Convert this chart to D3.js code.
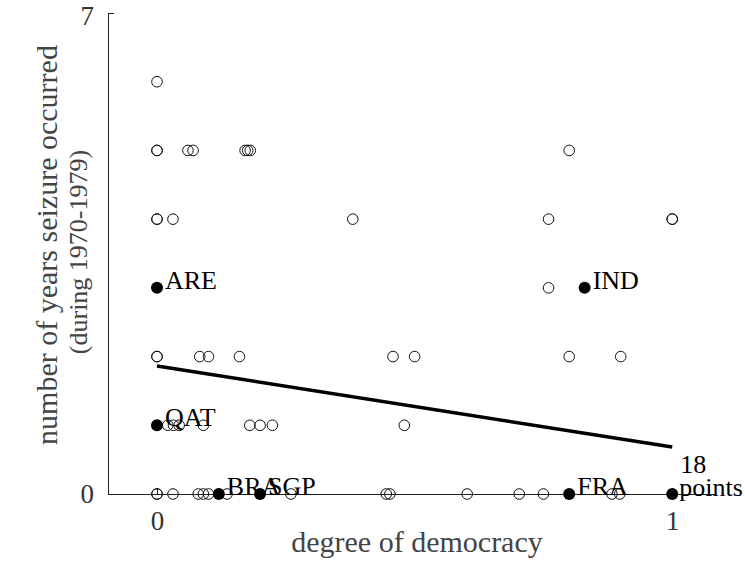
<!DOCTYPE html>
<html>
<head>
<meta charset="utf-8">
<script src="https://cdn.jsdelivr.net/npm/d3@7"></script>
<style>
  body { margin: 0; background: #fff; }
  text { font-family: "Liberation Serif", "Times New Roman", serif; }
</style>
</head>
<body>
<div id="chart-area"></div>
<script>
// Open markers: degree of democracy (x) and number of years (y)
const openX = [
    0,
    0, 0, 0.06, 0.07, 0.171, 0.176, 0.181, 0.80,
    0, 0, 0.031, 0.38, 0.76, 1, 1,
    0.76,
    0, 0, 0.083, 0.10, 0.16, 0.458, 0.5, 0.80, 0.90,
    0.021, 0.032, 0.043, 0.090, 0.18, 0.20, 0.224, 0.48,
    0, 0, 0.031, 0.080, 0.090, 0.100, 0.136, 0.26, 0.445, 0.452, 0.602, 0.703, 0.750, 0.883, 0.898
];
const openY = [
    6,
    5, 5, 5, 5, 5, 5, 5, 5,
    4, 4, 4, 4, 4, 4, 4,
    3,
    2, 2, 2, 2, 2, 2, 2, 2, 2,
    1, 1, 1, 1, 1, 1, 1, 1,
    0, 0, 0, 0, 0, 0, 0, 0, 0, 0, 0, 0, 0, 0, 0
];

// Labelled (filled) markers
const labelNames = ["ARE", "IND", "QAT", "BRA", "SGP", "FRA", "18"];
const labelX = [0, 0.83, 0, 0.12, 0.20, 0.80, 1];
const labelY = [3, 3, 1, 0, 0, 0, 0];

// Fitted line
const fitX = [0, 1];
const fitY = [1.863, 0.684];

const xTicks = [0, 1];
const yTicks = [0, 7];

const width = 745;
const height = 563;

const svg = d3.select("#chart-area")
    .append("svg")
    .attr("width", width)
    .attr("height", height);

// scales - x domain stretched so the axis line runs past the ticks
const x = d3.scaleLinear().domain([-0.0951, 1.083]).range([108, 715]);
const y = d3.scaleLinear().domain([0, 7]).range([494, 13]);

// axes
const xAxis = svg.append("g")
    .attr("transform", `translate(0,${y(0)})`)
    .call(d3.axisBottom(x).tickValues(xTicks).tickFormat(d3.format("d"))
        .tickSizeInner(-6).tickSizeOuter(0).tickPadding(17));

const yAxis = svg.append("g")
    .attr("transform", `translate(${x.range()[0]},0)`)
    .call(d3.axisLeft(y).tickValues(yTicks).tickFormat(d3.format("d"))
        .tickSizeInner(-6).tickSizeOuter(0).tickPadding(14));

[xAxis, yAxis].forEach(g => {
    g.select(".domain").attr("stroke", "#222").attr("stroke-width", 1);
    g.selectAll(".tick line").attr("stroke", "#222");
    g.selectAll(".tick text")
        .style("font-family", "Liberation Serif, serif")
        .style("font-size", "27px")
        .attr("fill", "#333");
});
// keep the top "7" inside the frame
yAxis.selectAll(".tick text").filter(d => d === 7).attr("dy", "0.42em");

// axis titles
svg.append("text")
    .attr("x", 417)
    .attr("y", 552)
    .attr("text-anchor", "middle")
    .style("font-size", "30px")
    .attr("fill", "#444")
    .text("degree of democracy");

svg.append("text")
    .attr("transform", "translate(57,245) rotate(-90)")
    .attr("text-anchor", "middle")
    .style("font-size", "30px")
    .attr("fill", "#444")
    .text("number of years seizure occurred");

svg.append("text")
    .attr("transform", "translate(87,252) rotate(-90)")
    .attr("text-anchor", "middle")
    .style("font-size", "26px")
    .attr("fill", "#444")
    .text("(during 1970-1979)");

// open circles
svg.selectAll(".open")
    .data(openX.map((d, i) => ({ x: d, y: openY[i] })))
    .enter()
    .append("circle")
    .attr("class", "open")
    .attr("cx", d => x(d.x))
    .attr("cy", d => y(d.y))
    .attr("r", 5.3)
    .attr("fill", "none")
    .attr("stroke", "#111")
    .attr("stroke-width", 1);

// fitted line
svg.append("line")
    .attr("x1", x(fitX[0]))
    .attr("y1", y(fitY[0]))
    .attr("x2", x(fitX[1]))
    .attr("y2", y(fitY[1]))
    .attr("stroke", "#000")
    .attr("stroke-width", 3.5);

// filled circles with labels
const labelled = labelNames.map((d, i) => ({ name: d, x: labelX[i], y: labelY[i] }));

svg.selectAll(".filled")
    .data(labelled)
    .enter()
    .append("circle")
    .attr("class", "filled")
    .attr("cx", d => x(d.x))
    .attr("cy", d => y(d.y))
    .attr("r", 6)
    .attr("fill", "#000");

svg.selectAll(".point-label")
    .data(labelled)
    .enter()
    .append("text")
    .attr("class", "point-label")
    .attr("x", d => x(d.x) + 8)
    .attr("y", d => y(d.y) + (d.name === "18" ? -21 : 1))
    .style("font-size", "26px")
    .attr("fill", "#000")
    .text(d => d.name);

// second line of the "18 points" note
svg.append("text")
    .attr("x", x(1) + 7)
    .attr("y", y(0) + 2)
    .style("font-size", "26px")
    .attr("fill", "#000")
    .text("points");
</script>
</body>
</html>
